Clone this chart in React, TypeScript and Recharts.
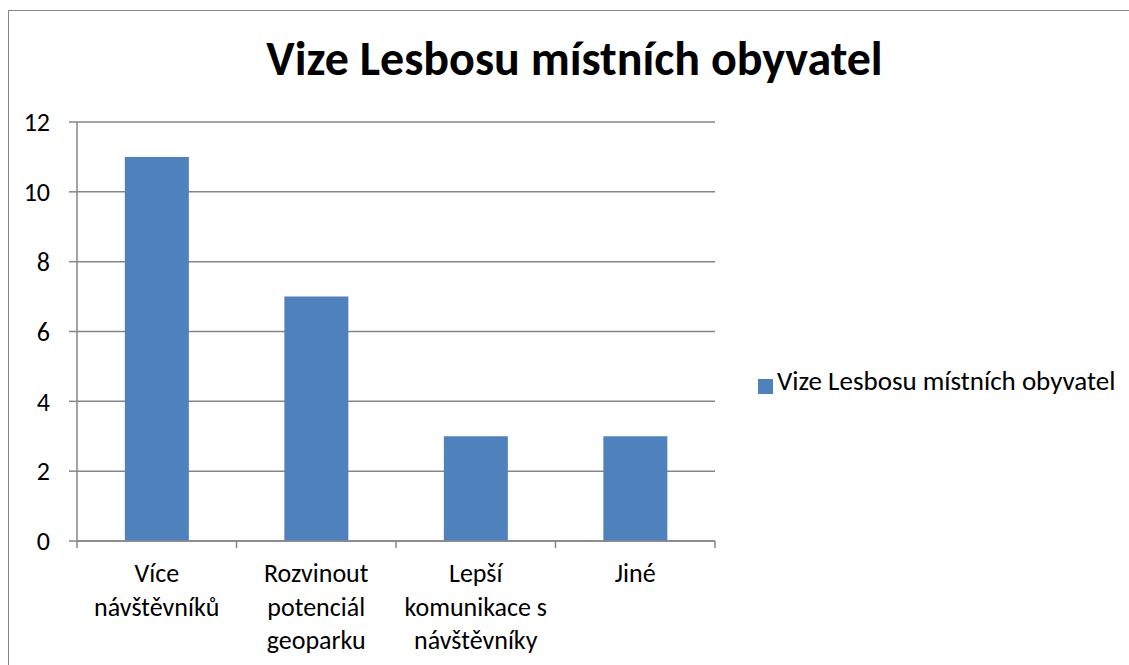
import React from 'react';
import { BarChart, Bar, XAxis, YAxis, CartesianGrid, Legend } from 'recharts';

const TITLE = 'Vize Lesbosu místních obyvatel';
const CATEGORIES = ['Více\nnávštěvníků', 'Rozvinout\npotenciál\ngeoparku', 'Lepší\nkomunikace s\nnávštěvníky', 'Jiné'];
const VALUES = [11, 7, 3, 3];
const Y_TICKS = [0, 2, 4, 6, 8, 10, 12];

const FONT = "Carlito, Calibri, 'Open Sans', sans-serif";
const GREY = '#868686';
const BLUE = '#4F81BD';

const data = CATEGORIES.map((c, i) => ({ name: c, value: VALUES[i] }));

const CategoryTick = (props: any) => {
  const { x, y, payload, index, visibleTicksCount } = props;
  const half = payload && payload.offset ? payload.offset : 79.75;
  const lines = String(payload.value).split('\n');
  const last = index === (visibleTicksCount ?? CATEGORIES.length) - 1;
  return (
    <g>
      <line x1={x - half} x2={x - half} y1={y - 7} y2={y} stroke={GREY} strokeWidth={1.5} />
      {last && <line x1={x + half} x2={x + half} y1={y - 7} y2={y} stroke={GREY} strokeWidth={1.5} />}
      <text x={x} y={y} textAnchor="middle" fontFamily={FONT} fontSize={26} fill="#000">
        {lines.map((l, i) => (
          <tspan key={i} x={x} dy={i === 0 ? 34 : 33.5}>{l}</tspan>
        ))}
      </text>
    </g>
  );
};

const App: React.FC = () => {
  return (
    <div style={{ position: 'absolute', left: 0, top: 0, width: 1129, height: 665, background: '#fff', overflow: 'hidden' }}>
      <div style={{ position: 'absolute', left: 8, top: 10, width: 1200, height: 800, border: `1.5px solid ${GREY}` }} />
      <div style={{ position: 'absolute', left: 10, top: 35, width: 1129, textAlign: 'center', fontFamily: FONT, fontWeight: 'bold', fontSize: 48, lineHeight: '48px', color: '#000', whiteSpace: 'nowrap' }}>
        {TITLE}
      </div>
      <div style={{ position: 'absolute', left: 0, top: 0 }}>
        <BarChart width={1129} height={665} data={data} margin={{ top: 122, right: 414, bottom: 0, left: 17 }} barCategoryGap="30%">
          <CartesianGrid vertical={false} stroke={GREY} strokeWidth={1.5} />
          <XAxis dataKey="name" height={124} axisLine={{ stroke: GREY, strokeWidth: 1.5 }} tickLine={false} tickSize={7} tickMargin={0} interval={0} tick={<CategoryTick />} />
          <YAxis width={60} domain={[0, 12]} ticks={Y_TICKS} axisLine={{ stroke: GREY, strokeWidth: 1.5 }} tickLine={{ stroke: GREY, strokeWidth: 1.5 }} tickSize={8} tickMargin={19} tick={{ fill: '#000', fontSize: 26, fontFamily: FONT }} />
          <Legend
            layout="vertical"
            align="center"
            verticalAlign="middle"
            iconType="square"
            iconSize={15}
            wrapperStyle={{ left: 758, top: 364, width: 380, fontFamily: FONT, textAlign: 'left' }}
            formatter={(v: string) => <span style={{ color: '#000', fontSize: 27 }}>{v}</span>}
          />
          <Bar dataKey="value" name={TITLE} fill={BLUE} isAnimationActive={false} />
        </BarChart>
      </div>
    </div>
  );
};

export default App;
